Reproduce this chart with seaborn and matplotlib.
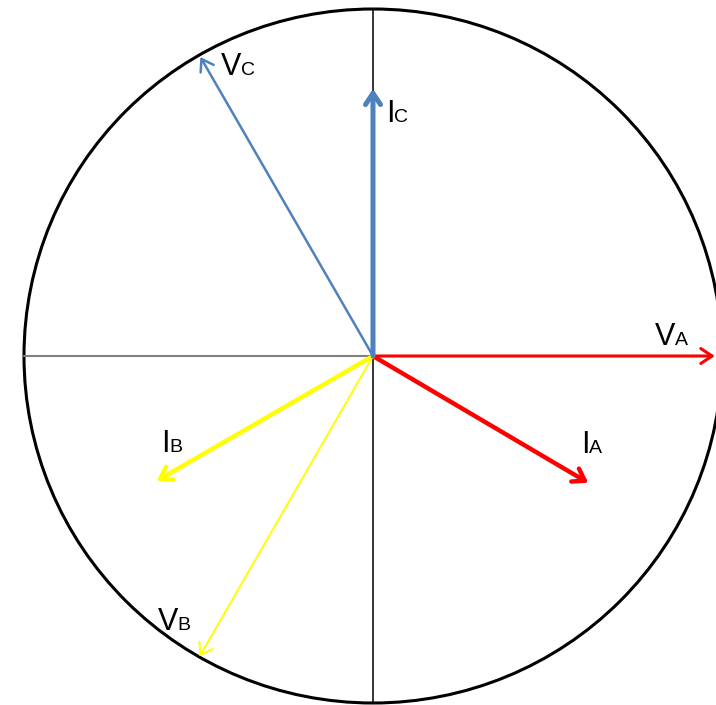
import numpy as np
import matplotlib
matplotlib.use('Agg')
import matplotlib.pyplot as plt
from matplotlib.patches import Ellipse
import seaborn as sns

# phasors: magnitude (circle radius = 1) and angle in degrees
names = ['VA', 'IA', 'VB', 'IB', 'VC', 'IC']
mags = [0.985, 0.72, 1.0, 0.72, 0.995, 0.77]
angles = [0, -30.5, 240, 210, 120, 90]
colors = ['#FF0000', '#FF0000', '#FFFF00', '#FFFF00', '#4F81BD', '#4F81BD']
widths = [2.2, 3.2, 1.4, 3.2, 1.8, 3.6]

# label text: main letter, subscript letter, anchor (data units)
lab_main = ['V', 'I', 'V', 'I', 'V', 'I']
lab_sub = ['A', 'A', 'B', 'B', 'C', 'C']
lab_x = [0.813, 0.600, -0.620, -0.611, -0.438, 0.037]
lab_y = [0.032, -0.280, -0.790, -0.277, 0.810, 0.674]

sns.set_style('white')
plt.rcParams['font.family'] = ['Liberation Sans', 'DejaVu Sans']

fig = plt.figure(figsize=(7.16, 7.05), dpi=100)
ax = fig.add_axes([0, 0, 1, 1])
ax.set_xlim(-373 / 347, 343 / 347)
ax.set_ylim(-349 / 347, 356 / 347)
ax.set_aspect('equal')
ax.axis('off')

ax.add_patch(Ellipse((0, 0), 2 * 349 / 347, 2.0, fill=False, color='black', lw=2.2, zorder=1))
ax.plot([-349 / 347, 0], [0, 0], color='#808080', lw=1.5, zorder=1)
ax.plot([0, 0], [-1, 1], color='black', lw=1.1, zorder=1)

for n, m, a, c, w in zip(names, mags, angles, colors, widths):
    x = m * np.cos(np.radians(a))
    y = m * np.sin(np.radians(a))
    ax.annotate('', xy=(x, y), xytext=(0, 0), annotation_clip=False,
                arrowprops=dict(arrowstyle='->,head_length=0.45,head_width=0.3',
                                color=c, lw=w, mutation_scale=18,
                                shrinkA=0, shrinkB=0), zorder=3)

for mn, sb, x, y in zip(lab_main, lab_sub, lab_x, lab_y):
    ax.text(x, y, mn, fontsize=22, ha='left', va='baseline', color='black')
    off = 20 if mn == 'V' else 8
    ax.annotate(sb, xy=(x, y), xytext=(off, 0), textcoords='offset pixels',
                fontsize=14, ha='left', va='baseline', color='black')

fig.savefig('out.png', dpi=100)
